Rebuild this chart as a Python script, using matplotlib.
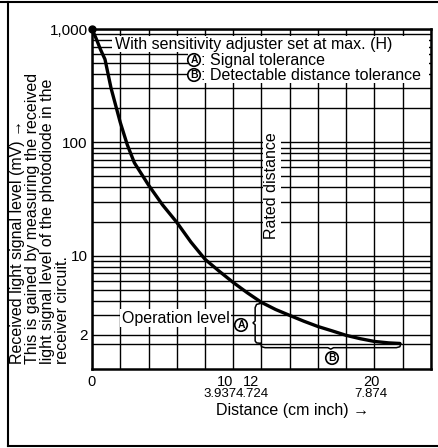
import matplotlib
matplotlib.use('Agg')
import matplotlib.pyplot as plt
import matplotlib.transforms as mtransforms
from matplotlib.patches import Rectangle
from matplotlib.lines import Line2D

plt.rcParams['font.family'] = ['Liberation Sans', 'DejaVu Sans']

# ---------------- data ----------------
distance_cm = [0, 0.3, 0.6, 0.92, 1.35, 2.0, 2.5, 3.0, 4.0, 5.0, 6.0, 7.0, 8.0, 9.0,
               10.0, 11.0, 12.0, 13.0, 14.0, 15.0, 16.0, 17.0, 18.0, 19.0, 20.0, 21.0, 21.8]
signal_mv = [1000, 820, 660, 540, 300, 150, 95, 66, 42, 28, 19.7, 13.2, 9.3, 7.3,
             5.8, 4.7, 3.87, 3.35, 2.97, 2.64, 2.37, 2.17, 1.98, 1.85, 1.75, 1.70, 1.68]

operation_level = 1.65
rated_distance = 12

x_major_ticks = [0, 10, 12, 20]
x_major_labels = ['0', '10', '12', '20']
inch_labels = ['', '3.937', '4.724', '7.874']
x_minor_ticks = [2, 4, 6, 8, 14, 16, 18, 22, 24]

y_major_ticks = [2, 10, 100, 1000]
y_major_labels = ['2', '10', '100', '1,000']
y_minor_ticks = [3, 4, 5, 6, 7, 8, 9, 20, 30, 40, 50, 60, 70, 80, 90,
                 200, 300, 400, 500, 600, 700, 800, 900]

ylab_lines = ['Received light signal level (mV) \u2192',
              'This is gained by measuring the received',
              'light signal level of the photodiode in the',
              'receiver circuit.']

# ---------------- figure ----------------
W, H = 439, 448
fig = plt.figure(figsize=(W / 100, H / 100), dpi=100)


def P(px, py):
    return px / W, 1 - py / H


ax_l, ax_t, ax_r, ax_b = 92, 29, 431, 369
ax = fig.add_axes([ax_l / W, 1 - ax_b / H, (ax_r - ax_l) / W, (ax_b - ax_t) / H])
ax.set_yscale('log')
ax.set_xlim(0, 24)
ax.set_ylim(1, 1000)

ax.set_xticks(x_major_ticks)
ax.set_xticklabels(x_major_labels)
ax.set_xticks(x_minor_ticks, minor=True)
ax.set_yticks(y_major_ticks)
ax.set_yticklabels(y_major_labels)
ax.set_yticks(y_minor_ticks, minor=True)
ax.set_yticklabels([], minor=True)
ax.tick_params(which='both', length=0)
ax.tick_params(axis='x', pad=4, labelsize=10.5)
ax.tick_params(axis='y', pad=3, labelsize=11)

ax.grid(True, which='both', color='black', lw=1.0)
ax.set_axisbelow(True)
ax.axhline(operation_level, color='black', lw=1.0, zorder=0.6)
for s in ax.spines.values():
    s.set_linewidth(1.8)

# shift x tick labels like the reference
x_offsets_px = [0, -8, -10, -3]
for lab, dx in zip(ax.get_xticklabels(), x_offsets_px):
    lab.set_transform(lab.get_transform() +
                      mtransforms.ScaledTranslation(dx / 100, 0, fig.dpi_scale_trans))

inch_offsets_px = [0, -13, -9, -4]
for xv, s, dx in zip(x_major_ticks, inch_labels, inch_offsets_px):
    if s:
        tr = ax.get_xaxis_transform() + mtransforms.ScaledTranslation(dx / 100, -25 / 100, fig.dpi_scale_trans)
        ax.text(xv, 0, s, transform=tr, ha='center', va='center', fontsize=9.5)

# curve
ax.plot(distance_cm, signal_mv, color='black', lw=2.4, zorder=4, solid_capstyle='round')
ax.plot(distance_cm[0], signal_mv[0], 'o', color='black', ms=5, zorder=4, clip_on=False)

# legend white boxes
ax.add_patch(Rectangle(((112 - ax_l) / 339, (ax_b - 52) / 340), (429 - 112) / 339, 16 / 340,
                       transform=ax.transAxes, fc='white', ec='none', zorder=1))
ax.add_patch(Rectangle(((188 - ax_l) / 339, (ax_b - 83) / 340), (429 - 188) / 339, 31 / 340,
                       transform=ax.transAxes, fc='white', ec='none', zorder=1))

fs = 11.5
fig.text(*P(115, 44), 'With sensitivity adjuster set at max. (H)', ha='left', va='center', fontsize=fs)
circ = dict(boxstyle='circle,pad=0.12', fc='white', ec='black', lw=1.2)
fig.text(*P(194, 60), 'A', ha='center', va='center', fontsize=7.5, fontweight='bold', bbox=circ)
fig.text(*P(201, 60), ': Signal tolerance', ha='left', va='center', fontsize=fs)
fig.text(*P(194, 75), 'B', ha='center', va='center', fontsize=7.5, fontweight='bold', bbox=circ)
fig.text(*P(201, 75), ': Detectable distance tolerance', ha='left', va='center', fontsize=fs)

# annotations
fig.text(*P(122, 318), 'Operation level', ha='left', va='center', fontsize=fs,
         bbox=dict(boxstyle='square,pad=0.1', fc='white', ec='none'))
fig.text(*P(272, 186), 'Rated distance', ha='center', va='center', rotation=90, fontsize=fs,
         bbox=dict(boxstyle='square,pad=0.1', fc='white', ec='none'))
fig.text(*P(241, 325), 'A', ha='center', va='center', fontsize=7.5, fontweight='bold', bbox=circ)
fig.text(*P(332, 358), 'B', ha='center', va='center', fontsize=7.5, fontweight='bold', bbox=circ)

# brace A (from curve at rated distance down to operation level)
y_top = signal_mv[distance_cm.index(rated_distance)]
y_bot = operation_level * 1.02
y_mid = (y_top * y_bot) ** 0.5
bx = [rated_distance - 0.05, rated_distance - 0.35, rated_distance - 0.45, rated_distance - 0.45,
      rated_distance - 0.6, rated_distance - 0.45, rated_distance - 0.45, rated_distance - 0.35,
      rated_distance - 0.05]
by = [y_top * 0.98, y_top * 0.96, y_top * 0.9, y_mid * 1.04, y_mid, y_mid / 1.04,
      y_bot * 1.05, y_bot * 1.01, y_bot]
ax.plot(bx, by, color='black', lw=1.1, zorder=3)

# bracket B (detectable distance tolerance)
end_x = distance_cm[-1]
yB = operation_level / 1.07
mid_x = (rated_distance + end_x) / 2
ax.plot([rated_distance - 0.05, rated_distance, rated_distance + 0.25, mid_x - 0.2, mid_x, mid_x + 0.2,
         end_x - 0.25, end_x, end_x + 0.05],
        [y_bot, yB * 1.02, yB, yB, yB * 0.97, yB, yB, yB * 1.02, operation_level * 1.01],
        color='black', lw=1.1, zorder=3)

# axis titles
fig.text(*P(293, 410), 'Distance (cm inch) \u2192', ha='center', va='center', fontsize=11.5)
for i, s in enumerate(ylab_lines):
    fig.text(*P(18 + 15 * i, 364), s, rotation=90, ha='center', va='bottom', fontsize=11.5)

# outer frame
fig.add_artist(Line2D([0, 1], [1 - 2 / H] * 2, color='black', lw=1.5, transform=fig.transFigure))
fig.add_artist(Line2D([8 / W] * 2, [1 - 2 / H, 1 - 446 / H], color='black', lw=1.5, transform=fig.transFigure))
fig.add_artist(Line2D([8 / W, 1], [1 - 446 / H] * 2, color='black', lw=1.5, transform=fig.transFigure))

fig.savefig('out.png', dpi=100)
